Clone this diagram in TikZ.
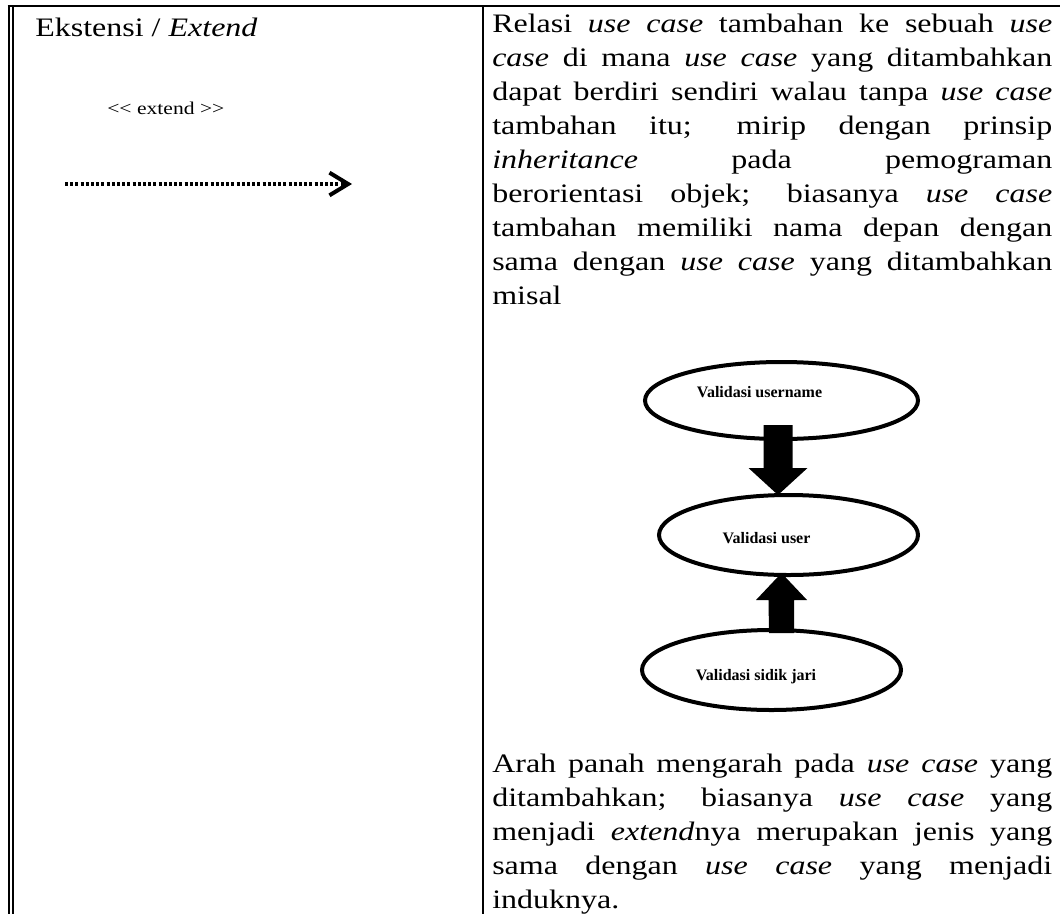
\documentclass[tikz,border=0pt]{standalone}
\usepackage{fontspec}
\setmainfont{Liberation Serif}[FakeStretch=1.2]
\newfontfamily\ucfont{Liberation Serif}
\usetikzlibrary{shapes.geometric,arrows.meta}
% one justified line of a paragraph, stretched to the full column width
\newcommand\jline[1]{\makebox[\linewidth][s]{#1}\\}
\begin{document}
\begin{tikzpicture}[x=0.75pt,y=-0.75pt,
  rule/.style={line width=1.5pt},
  usecase/.style={draw, ellipse, line width=3pt, inner sep=0pt},
  uclabel/.style={font=\ucfont\fontsize{12pt}{14pt}\selectfont\bfseries, inner sep=0pt, anchor=base},
  body/.style={inner sep=0pt, anchor=base west, font=\fontsize{20pt}{25.5pt}\selectfont},
  block/.style={fill=black},
  extendline/.style={line width=2.6pt, dash pattern=on 2.3pt off 1.6pt,
    -{Straight Barb[length=14pt,width=17pt,line width=3pt]}}]
\useasboundingbox (0,0) rectangle (1060,914);

% table rules: top rule, double left rule, column divider
\draw[rule] (7.5,6) -- (1060,6);
\draw[rule] (8.5,5) -- (8.5,914);
\draw[rule] (12.5,6) -- (12.5,914);
\draw[line width=1.9pt] (483,6) -- (483,914);

% left column
\node[body] (title) at (35,36) {Ekstensi / \textit{Extend}};
\node[inner sep=0pt, anchor=base west, font=\fontsize{13.5pt}{16pt}\selectfont] (stereo) at (107,114)
  {\mbox{<}\mbox{<} extend \mbox{>}\mbox{>}};
\coordinate (ea) at (65,184);
\coordinate (eb) at (352,184);
\draw[extendline] (ea) -- (eb);

% right column, first paragraph
\node[body] (p1) at (492,32) {\parbox[t]{420pt}{%
\jline{Relasi \textit{use case} tambahan ke sebuah \textit{use}}%
\jline{\textit{case} di mana \textit{use case} yang ditambahkan}%
\jline{dapat berdiri sendiri walau tanpa \textit{use case}}%
\jline{tambahan itu; mirip dengan prinsip}%
\jline{\textit{inheritance} pada pemograman}%
\jline{berorientasi objek; biasanya \textit{use case}}%
\jline{tambahan memiliki nama depan dengan}%
\jline{sama dengan \textit{use case} yang ditambahkan}%
misal}};

% example use cases
\node[usecase, minimum width=204.75pt, minimum height=57.75pt] (u1) at (781.5,400.5) {};
\node[usecase, minimum width=194.25pt, minimum height=60pt] (u2) at (788.5,535) {};
\node[usecase, minimum width=194.25pt, minimum height=60pt] (u3) at (771.5,670) {};
\node[uclabel] (l1) at (759.5,397) {Validasi username};
\node[uclabel] (l2) at (766.5,543) {Validasi user};
\node[uclabel] (l3) at (756,680) {Validasi sidik jari};

% block arrows between the use cases
\coordinate (dA) at (778,425);
\coordinate (dB) at (778,495);
\fill[block] (dA) ++(-14.5,0) -- ++(29,0) -- ++(0,43) -- ++(15,0) -- (dB)
  -- ++(-29.5,-27) -- ++(15,0) -- cycle;
\coordinate (uA) at (781.5,633);
\coordinate (uB) at (781.5,573);
\fill[block] (uA) ++(-12.5,0) -- ++(25,0) -- ++(0,-33) -- ++(13,0) -- (uB)
  -- ++(-25.5,27) -- ++(12.5,0) -- cycle;

% right column, second paragraph
\node[body] (p2) at (492,772) {\parbox[t]{420pt}{%
\jline{Arah panah mengarah pada \textit{use case} yang}%
\jline{ditambahkan; biasanya \textit{use case} yang}%
\jline{menjadi \textit{extend}nya merupakan jenis yang}%
\jline{sama dengan \textit{use case} yang menjadi}%
induknya.}};
\end{tikzpicture}
\end{document}
